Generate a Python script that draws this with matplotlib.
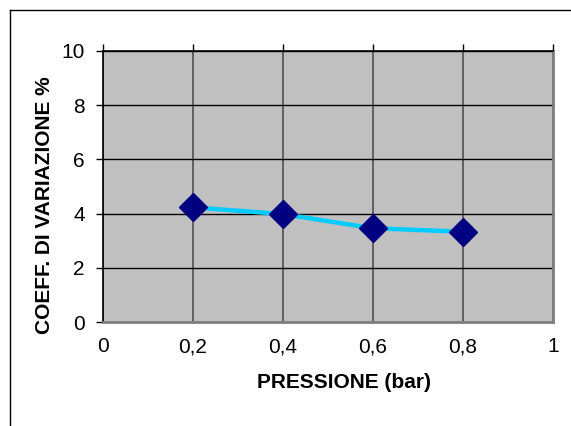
import numpy as np
import matplotlib
matplotlib.use('Agg')
import matplotlib.pyplot as plt
from matplotlib.lines import Line2D
from matplotlib.ticker import FuncFormatter

plt.rcParams['font.family'] = ['Liberation Sans', 'DejaVu Sans']

pressione = [0.2, 0.4, 0.6, 0.8]
coeff_var = [4.23, 3.98, 3.46, 3.33]
x_ticks = [0, 0.2, 0.4, 0.6, 0.8, 1]
y_ticks = [0, 2, 4, 6, 8, 10]


def comma_fmt(v, pos):
    s = ('%g' % round(v, 2))
    return s.replace('.', ',')


fig = plt.figure(figsize=(5.71, 4.26), dpi=100)
ax = fig.add_axes([103 / 571, 1 - 322 / 426, 450 / 571, 271 / 426])
ax.set_facecolor('#C0C0C0')

ax.plot(pressione, coeff_var, color='#00CCFF', lw=3.2, zorder=3,
        marker='D', markersize=14, markerfacecolor='#000080',
        markeredgecolor='#000080', clip_on=False)

ax.set_xlim(0, 1)
ax.set_ylim(0, 10)
ax.set_xticks(x_ticks)
ax.set_yticks(y_ticks)
ax.xaxis.set_major_formatter(FuncFormatter(comma_fmt))
ax.grid(True, axis='y', color='black', lw=1)
ax.grid(True, axis='x', color='#505050', lw=1.2)
ax.set_axisbelow(True)

ax.tick_params(axis='x', direction='out', length=5, width=1, color='black',
               labelsize=15, pad=6, top=True, bottom=False)
ax.tick_params(axis='y', direction='out', length=5, width=1, color='black',
               labelsize=15, pad=8)

ax.spines['top'].set_color('black')
ax.spines['top'].set_linewidth(1.2)
ax.spines['left'].set_color('black')
ax.spines['left'].set_linewidth(1.2)
ax.spines['right'].set_color('#808080')
ax.spines['right'].set_linewidth(2)
ax.spines['bottom'].set_color('#808080')
ax.spines['bottom'].set_linewidth(2)

fig.text(344 / 571, 1 - 383 / 426, 'PRESSIONE (bar)', ha='center', va='center',
         fontsize=15, fontweight='bold')
fig.text(45 / 571, 1 - 205 / 426, 'COEFF. DI VARIAZIONE %', ha='center',
         va='center', rotation=90, fontsize=15, fontweight='bold')

# chart border (top and left edges)
fig.add_artist(Line2D([10 / 571, 10 / 571], [0, 1 - 10 / 426],
                      transform=fig.transFigure, color='black', lw=1))
fig.add_artist(Line2D([10 / 571, 570 / 571], [1 - 10 / 426, 1 - 10 / 426],
                      transform=fig.transFigure, color='black', lw=1))

fig.savefig('out.png', dpi=100)
